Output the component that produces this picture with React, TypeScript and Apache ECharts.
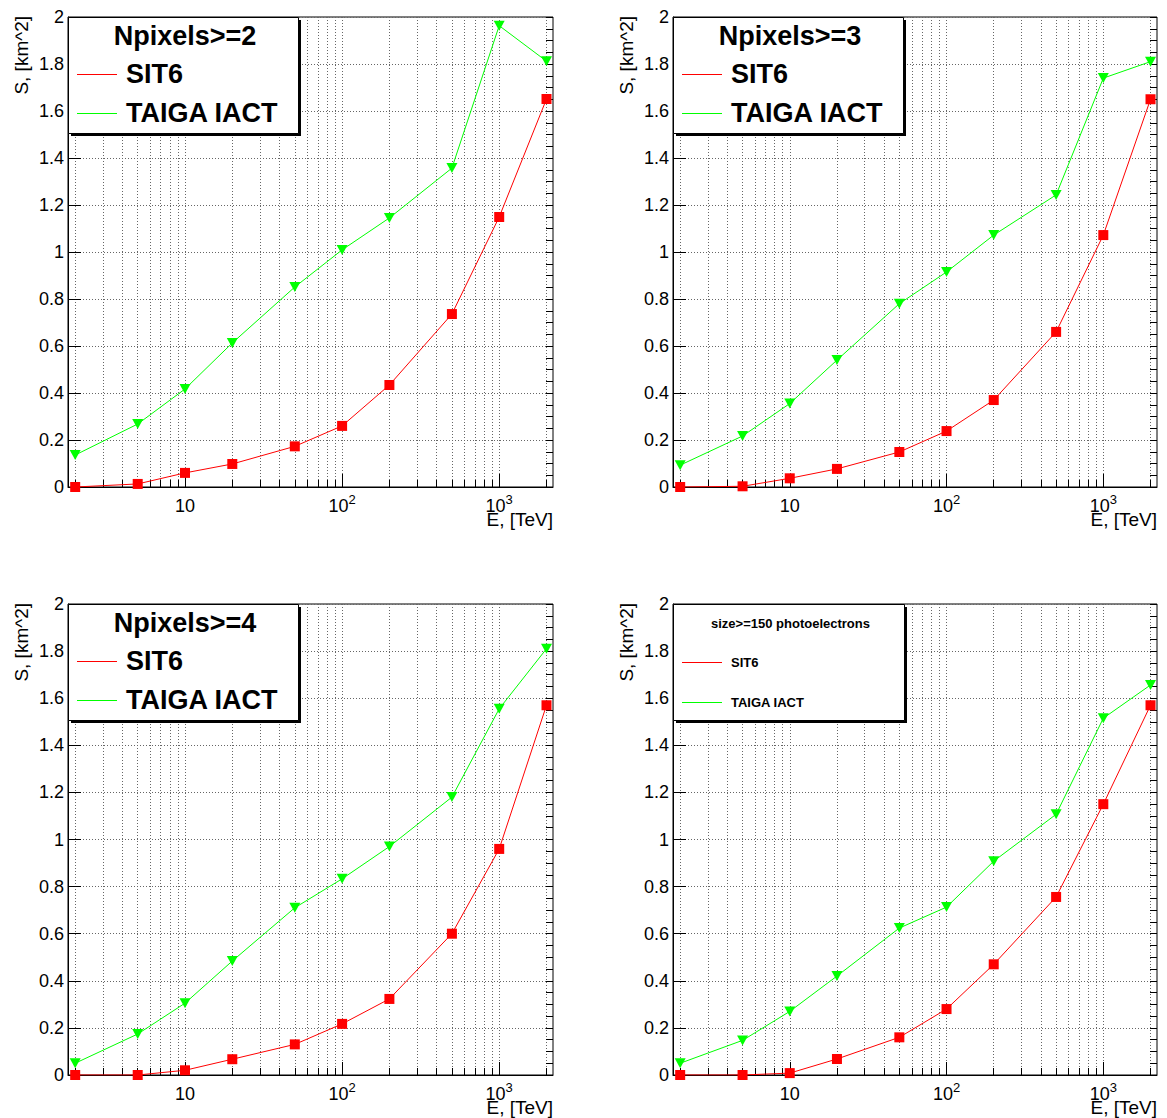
import React, { useEffect, useRef } from 'react';
import * as echarts from 'echarts';

// ---- data ----
const E_TEV = [2, 5, 10, 20, 50, 100, 200, 500, 1000, 2000];

const SIT6_NPIX2 = [0.0, 0.013, 0.06, 0.098, 0.173, 0.26, 0.434, 0.736, 1.149, 1.651];
const TAIGA_NPIX2 = [0.136, 0.268, 0.417, 0.613, 0.851, 1.009, 1.145, 1.357, 1.963, 1.812];

const SIT6_NPIX3 = [0.0, 0.003, 0.037, 0.077, 0.149, 0.238, 0.37, 0.66, 1.072, 1.65];
const TAIGA_NPIX3 = [0.093, 0.217, 0.355, 0.54, 0.78, 0.915, 1.072, 1.243, 1.74, 1.81];

const SIT6_NPIX4 = [0.0, 0.0, 0.02, 0.067, 0.13, 0.217, 0.323, 0.6, 0.96, 1.57];
const TAIGA_NPIX4 = [0.05, 0.174, 0.305, 0.484, 0.71, 0.833, 0.97, 1.18, 1.555, 1.81];

const SIT6_SIZE150 = [0.0, 0.0, 0.008, 0.068, 0.16, 0.28, 0.47, 0.756, 1.15, 1.57];
const TAIGA_SIZE150 = [0.05, 0.147, 0.27, 0.42, 0.624, 0.713, 0.908, 1.107, 1.515, 1.656];

const PANEL_TITLES = ['Npixels>=2', 'Npixels>=3', 'Npixels>=4', 'size>=150 photoelectrons'];
const SERIES_NAMES = ['SIT6', 'TAIGA IACT'];
const PANEL_DATA = [
  [SIT6_NPIX2, TAIGA_NPIX2],
  [SIT6_NPIX3, TAIGA_NPIX3],
  [SIT6_NPIX4, TAIGA_NPIX4],
  [SIT6_SIZE150, TAIGA_SIZE150],
];

const X_MIN = 1.8;
const X_MAX = 2200;
const X_MAJOR_TICKS = [10, 100, 1000];
const X_MINOR_TICKS = [2, 3, 4, 5, 6, 7, 8, 9, 20, 30, 40, 50, 60, 70, 80, 90, 200, 300, 400, 500, 600, 700, 800, 900, 2000];
const Y_MIN = 0;
const Y_MAX = 2;
const Y_STEP = 0.2;
const Y_MINOR_STEP = 0.05;
const X_TITLE = 'E, [TeV]';
const Y_TITLE = 'S, [km^2]';

// ---- layout ----
const FONT = '"Liberation Sans", Arial, Helvetica, sans-serif';
const PANELS = [
  { left: 68, top: 17, width: 485, height: 470 },
  { left: 673, top: 17, width: 484, height: 470 },
  { left: 68, top: 604, width: 485, height: 471 },
  { left: 673, top: 604, width: 484, height: 471 },
];
const COLORS = ['#ff0000', '#00ff00'];
const GRID_COLOR = '#666';

const lg = (v: number) => Math.log10(v);

function buildOption() {
  const grid: any[] = [];
  const xAxis: any[] = [];
  const yAxis: any[] = [];
  const series: any[] = [];
  const graphic: any[] = [];

  PANELS.forEach((p, i) => {
    grid.push({
      left: p.left, top: p.top, width: p.width, height: p.height,
      show: true, borderColor: '#000', borderWidth: 1, backgroundColor: 'transparent',
    });
    const xMajor = X_MAJOR_TICKS.map(lg);
    xAxis.push({
      type: 'value', gridIndex: i, min: lg(X_MIN), max: lg(X_MAX), position: 'bottom',
      axisLine: { show: true, lineStyle: { color: '#000', width: 1 } },
      axisTick: { show: true, inside: true, length: 13, customValues: xMajor, lineStyle: { color: '#000', width: 1 } },
      axisLabel: {
        customValues: xMajor, margin: 6, color: '#000', fontFamily: FONT,
        formatter: (v: number) => {
          const pw = Math.round(v);
          return pw === 1 ? '{b|10}' : `{b|10}{s|${pw}}`;
        },
        rich: {
          b: { fontSize: 18, lineHeight: 22, verticalAlign: 'bottom', fontFamily: FONT, color: '#000' },
          s: { fontSize: 13, lineHeight: 13, verticalAlign: 'top', fontFamily: FONT, color: '#000' },
        },
      },
      splitLine: { show: false },
    });
    xAxis.push({
      type: 'value', gridIndex: i, min: lg(X_MIN), max: lg(X_MAX), position: 'bottom',
      axisLine: { show: false },
      axisTick: { show: true, inside: true, length: 7, customValues: [...X_MINOR_TICKS, ...X_MAJOR_TICKS].map(lg), lineStyle: { color: '#000', width: 1 } },
      axisLabel: { show: false },
      splitLine: { show: true, lineStyle: { color: GRID_COLOR, width: 1, type: [1, 2] } },
    });
    yAxis.push({
      type: 'value', gridIndex: i, min: Y_MIN, max: Y_MAX, interval: Y_STEP,
      axisLine: { show: true, lineStyle: { color: '#000', width: 1 } },
      axisTick: { show: true, inside: true, length: 13, lineStyle: { color: '#000', width: 1 } },
      axisLabel: { margin: 4, color: '#000', fontSize: 18, fontFamily: FONT },
      splitLine: { show: true, lineStyle: { color: GRID_COLOR, width: 1, type: [1, 2] } },
    });
    yAxis.push({
      type: 'value', gridIndex: i, min: Y_MIN, max: Y_MAX, interval: Y_MINOR_STEP,
      axisLine: { show: false },
      axisTick: { show: true, inside: true, length: 7, lineStyle: { color: '#000', width: 1 } },
      axisLabel: { show: false },
      splitLine: { show: false },
    });

    PANEL_DATA[i].forEach((vals, k) => {
      series.push({
        name: SERIES_NAMES[k],
        type: 'line',
        xAxisIndex: 2 * i,
        yAxisIndex: 2 * i,
        data: E_TEV.map((e, j) => [lg(e), vals[j]]),
        symbol: k === 0 ? 'rect' : 'triangle',
        symbolRotate: k === 0 ? 0 : 180,
        symbolSize: k === 0 ? 10 : [11, 10],
        showSymbol: true,
        itemStyle: { color: COLORS[k] },
        lineStyle: { color: COLORS[k], width: 1 },
        z: 3 + k,
      });
    });

    // axis titles
    graphic.push({
      type: 'text', x: p.left - 47, y: p.top - 1, rotation: Math.PI / 2, z: 50,
      style: { text: Y_TITLE, fontSize: 19, fontFamily: FONT, fill: '#000', align: 'right', verticalAlign: 'middle' },
    });
    graphic.push({
      type: 'text', x: p.left + p.width, y: p.top + p.height + 32, z: 50,
      style: { text: X_TITLE, fontSize: 19, fontFamily: FONT, fill: '#000', align: 'right', verticalAlign: 'middle' },
    });

    // legend box
    const small = i === 3;
    const bw = small ? 231 : 230;
    const bh = 116;
    const bx = p.left;
    const by = p.top;
    graphic.push({
      type: 'rect', z: 100, shape: { x: bx + 3, y: by + 3, width: bw, height: bh },
      style: { fill: '#000' },
    });
    graphic.push({
      type: 'rect', z: 101, shape: { x: bx + 0.5, y: by + 0.5, width: bw, height: bh },
      style: { fill: '#fff', stroke: '#000', lineWidth: 1 },
    });
    const fs = small ? 13 : 27;
    graphic.push({
      type: 'text', z: 102, x: bx + bw / 2 + 2, y: by + 19,
      style: { text: PANEL_TITLES[i], fontSize: fs, fontWeight: 'bold', fontFamily: FONT, fill: '#000', align: 'center', verticalAlign: 'middle' },
    });
    const rowY = small ? [58, 98] : [57, 96];
    SERIES_NAMES.forEach((name, k) => {
      graphic.push({
        type: 'line', z: 102,
        shape: { x1: bx + 9, y1: by + rowY[k] + 0.5, x2: bx + 49, y2: by + rowY[k] + 0.5 },
        style: { stroke: COLORS[k], lineWidth: 1 },
      });
      graphic.push({
        type: 'text', z: 102, x: bx + 58, y: by + rowY[k],
        style: { text: name, fontSize: fs, fontWeight: 'bold', fontFamily: FONT, fill: '#000', align: 'left', verticalAlign: 'middle' },
      });
    });
  });

  return {
    animation: false,
    backgroundColor: '#fff',
    textStyle: { fontFamily: FONT },
    grid, xAxis, yAxis, series, graphic,
  };
}

export default function App() {
  const ref = useRef<HTMLDivElement>(null);
  useEffect(() => {
    if (!ref.current) return;
    const chart = echarts.init(ref.current, undefined, { renderer: 'svg' });
    chart.setOption(buildOption() as any);
    return () => chart.dispose();
  }, []);
  return (
    <div
      ref={ref}
      style={{ position: 'absolute', left: 0, top: 0, width: 1167, height: 1118, background: '#fff' }}
    />
  );
}
